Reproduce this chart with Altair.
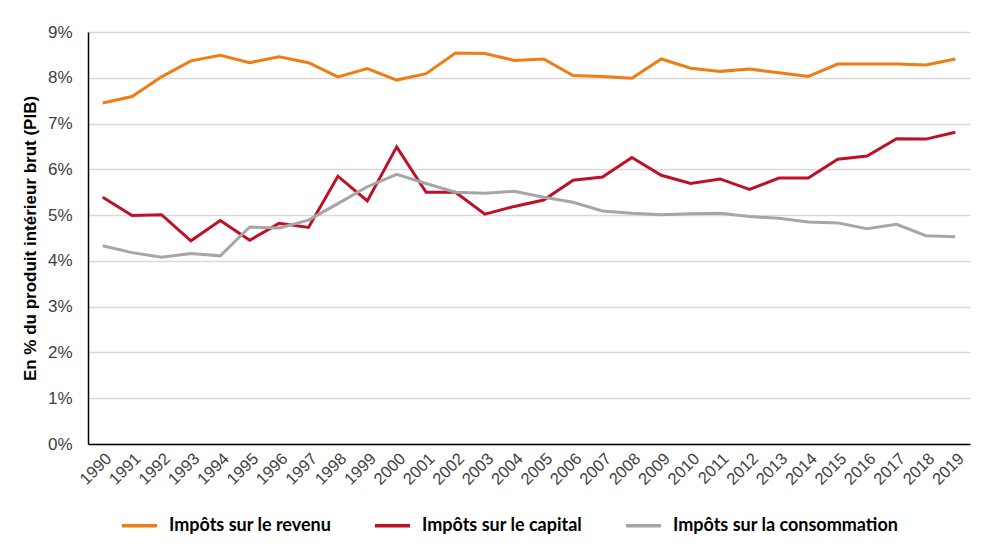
import pandas as pd
import altair as alt

# Years and tax shares (% of GDP)
years = list(range(1990, 2020))

revenu = [7.45, 7.59, 8.02, 8.37, 8.49, 8.33, 8.46, 8.33, 8.02, 8.20,
          7.95, 8.09, 8.54, 8.53, 8.38, 8.41, 8.05, 8.03, 7.99, 8.41,
          8.21, 8.14, 8.19, 8.11, 8.03, 8.30, 8.30, 8.30, 8.28, 8.41]

capital = [5.39, 4.99, 5.01, 4.44, 4.88, 4.45, 4.82, 4.73, 5.85, 5.31,
           6.49, 5.50, 5.50, 5.02, 5.19, 5.33, 5.76, 5.83, 6.26, 5.87,
           5.69, 5.79, 5.56, 5.81, 5.81, 6.22, 6.29, 6.67, 6.66, 6.81]

consommation = [4.33, 4.18, 4.08, 4.16, 4.11, 4.74, 4.72, 4.89, 5.25, 5.62,
                5.89, 5.69, 5.50, 5.48, 5.52, 5.39, 5.28, 5.09, 5.04, 5.01,
                5.03, 5.04, 4.97, 4.93, 4.85, 4.83, 4.70, 4.80, 4.55, 4.53]

series_names = ["Impôts sur le revenu", "Impôts sur le capital", "Impôts sur la consommation"]
series_colors = ["#EE7D14", "#BE1128", "#A6A6A6"]

# Long-form table for Altair
frames = []
for name, values in zip(series_names, [revenu, capital, consommation]):
    frames.append(pd.DataFrame({"annee": [str(y) for y in years],
                                "part": [v / 100 for v in values],
                                "serie": name}))
data = pd.concat(frames, ignore_index=True)

color_scale = alt.Scale(domain=series_names, range=series_colors)

chart = alt.Chart(data).mark_line(strokeWidth=3).encode(
    x=alt.X(
        "annee:O",
        title=None,
        scale=alt.Scale(paddingOuter=0.5),
        axis=alt.Axis(
            labelAngle=-45,
            labelFontSize=16.5,
            labelFont="Liberation Sans",
            labelColor="#404040",
            labelPadding=6,
            ticks=False,
            domainColor="#000000",
            domainWidth=1.5,
            grid=False
        )
    ),
    y=alt.Y(
        "part:Q",
        title="En % du produit intérieur brut (PIB)",
        scale=alt.Scale(domain=[0, 0.09]),
        axis=alt.Axis(
            format=".0%",
            values=[0, 0.01, 0.02, 0.03, 0.04, 0.05, 0.06, 0.07, 0.08, 0.09],
            labelFontSize=17,
            labelFont="Liberation Sans",
            labelColor="#404040",
            labelPadding=16,
            ticks=False,
            domainColor="#000000",
            domainWidth=1.5,
            gridColor="#D9D9D9",
            gridWidth=1.5,
            titleFont="Liberation Sans",
            titleFontSize=17,
            titleFontWeight="bold",
            titleColor="#000000",
            titlePadding=8
        )
    ),
    color=alt.Color(
        "serie:N",
        scale=color_scale,
        sort=series_names,
        legend=alt.Legend(
            title=None,
            orient="none",
            legendX=32,
            legendY=474,
            direction="horizontal",
            symbolType="stroke",
            symbolStrokeWidth=3.5,
            symbolSize=1225,
            labelFont="Lato",
            labelFontSize=18,
            labelFontWeight="bold",
            labelColor="#000000",
            labelOffset=10,
            columnPadding=36,
            labelLimit=400
        )
    )
).properties(
    width=882,
    height=412,
    autosize=alt.AutoSizeParams(type="none"),
    padding={"left": 80, "top": 24, "right": 20, "bottom": 100}
).configure_view(
    stroke=None
)

chart.save("out.html", embed_options={"renderer": "svg", "actions": False})
